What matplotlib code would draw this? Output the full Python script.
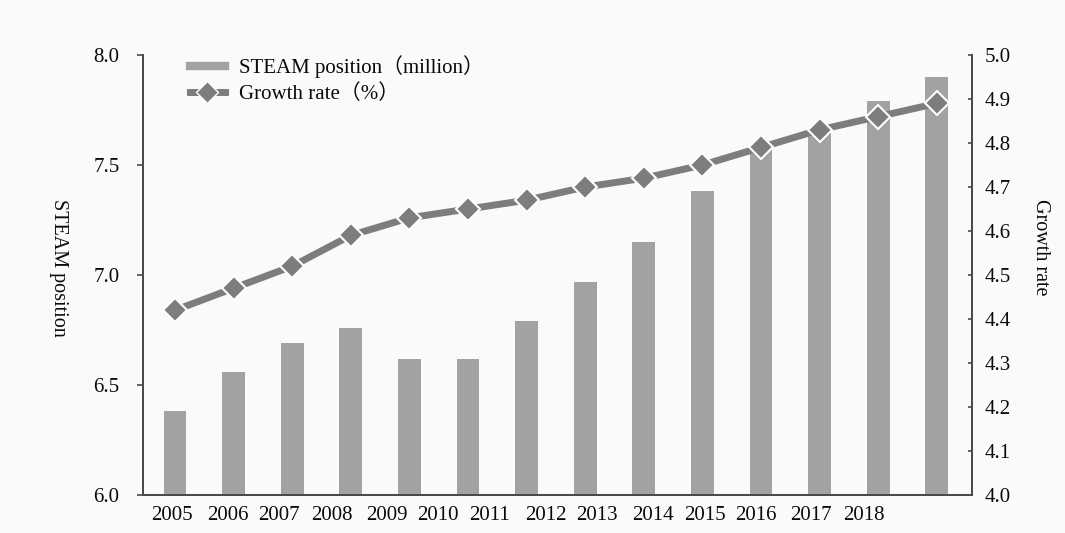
import matplotlib
matplotlib.use("Agg")
import matplotlib.pyplot as plt
import numpy as np
from matplotlib.lines import Line2D

# ---- data ----
years = ['2005', '2006', '2007', '2008', '2009', '2010', '2011',
         '2012', '2013', '2014', '2015', '2016', '2017', '2018']
steam_position = [6.38, 6.56, 6.69, 6.76, 6.62, 6.62, 6.79,
                  6.97, 7.15, 7.38, 7.57, 7.67, 7.79, 7.90]
growth_rate = [4.42, 4.47, 4.52, 4.59, 4.63, 4.65, 4.67,
               4.70, 4.72, 4.75, 4.79, 4.83, 4.86, 4.89]
left_ticks = [6.0, 6.5, 7.0, 7.5, 8.0]
right_ticks = [4.0, 4.1, 4.2, 4.3, 4.4, 4.5, 4.6, 4.7, 4.8, 4.9, 5.0]

# ---- layout (label placement as in the original, slightly off-centre) ----
label_pos = [-0.06, 0.91, 1.78, 2.67, 3.62, 4.49, 5.36,
             6.33, 7.20, 8.16, 9.05, 9.92, 10.85, 11.76]

SERIF = ['Liberation Serif', 'Noto Sans CJK SC', 'DejaVu Sans']
plt.rcParams['font.family'] = SERIF

bar_color = '#a2a2a2'
line_color = '#7d7d7d'
spine_color = '#4a4a4a'
text_color = '#0a0a0a'

fig = plt.figure(figsize=(10.65, 5.33), dpi=100)
fig.patch.set_facecolor('#fafafa')
ax = fig.add_axes([0.1343, 0.0713, 0.9127 - 0.1343, 0.8968 - 0.0713])
ax.set_facecolor('none')

x = np.arange(len(steam_position))
ax.bar(x, steam_position, width=0.39, color=bar_color, zorder=2)
ax.set_ylim(6.0, 8.0)
ax.set_xlim(-0.546, 13.6)
ax.set_yticks(left_ticks)
ax.set_yticklabels([f'{t:.1f}' for t in left_ticks])
ax.set_xticks(label_pos)
ax.set_xticklabels(years)
ax.tick_params(axis='x', length=0, pad=8, labelsize=15, colors=text_color)
ax.tick_params(axis='y', direction='out', length=4, width=1.2, pad=13,
               labelsize=15, color=spine_color, labelcolor=text_color)

ax2 = ax.twinx()
ax2.plot(x, growth_rate, color=line_color, lw=5, marker='D', markersize=12,
         markerfacecolor=line_color, markeredgecolor='white',
         markeredgewidth=1.5, zorder=3)
ax2.set_ylim(4.0, 5.0)
ax2.set_yticks(right_ticks)
ax2.set_yticklabels([f'{t:.1f}' for t in right_ticks])
ax2.tick_params(axis='y', direction='in', length=3, width=1.2, pad=9,
                labelsize=15, color=spine_color, labelcolor=text_color)

for a in (ax, ax2):
    a.spines['top'].set_visible(False)
    for s in ('left', 'right', 'bottom'):
        a.spines[s].set_color(spine_color)
        a.spines[s].set_linewidth(1.4)

ax.text(-0.1025, 0.516, 'STEAM position', transform=ax.transAxes,
        rotation=-90, ha='center', va='center', fontsize=14.5,
        color=text_color)
ax.text(1.082, 0.564, 'Growth rate', transform=ax.transAxes,
        rotation=-90, ha='center', va='center', fontsize=14.5,
        color=text_color)

handles = [
    Line2D([], [], color=bar_color, lw=6),
    Line2D([], [], color=line_color, lw=5, marker='D', markersize=11,
           markerfacecolor=line_color, markeredgecolor='white',
           markeredgewidth=1.0),
]
labels = ['STEAM position（million）', 'Growth rate（%）']
leg = ax2.legend(handles, labels, loc='upper left',
                 bbox_to_anchor=(0.057, 1.0), frameon=False, borderpad=0,
                 borderaxespad=0, fontsize=15, handlelength=1.65,
                 handletextpad=0.7, labelspacing=0.3)
for t in leg.get_texts():
    t.set_color(text_color)

fig.savefig('out.png', dpi=100, facecolor=fig.get_facecolor())
